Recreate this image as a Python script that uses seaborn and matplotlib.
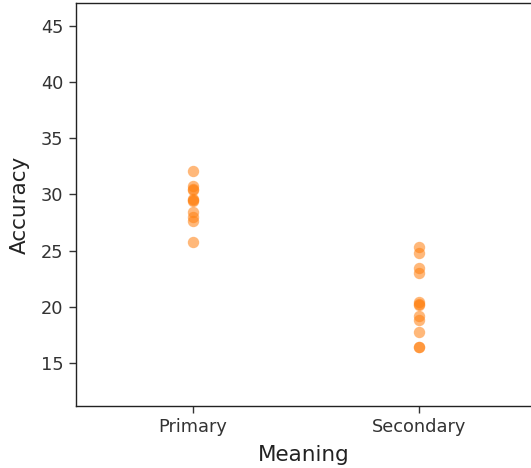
import matplotlib
matplotlib.use("Agg")
import matplotlib.pyplot as plt
import seaborn as sns
import pandas as pd

# Accuracy scores per meaning type
primary_acc = [32.1, 30.7, 30.5, 30.4, 29.6, 29.4, 29.5, 28.4, 28.0, 27.6, 25.8]
secondary_acc = [25.3, 24.8, 23.5, 23.0, 20.4, 20.3, 20.2, 19.2, 18.8, 17.8, 16.4, 16.4]
categories = ["Primary", "Secondary"]

df = pd.DataFrame({
    "Meaning": [categories[0]] * len(primary_acc) + [categories[1]] * len(secondary_acc),
    "Accuracy": primary_acc + secondary_acc,
})

sns.set_style("white")
plt.rcParams["font.family"] = ["DejaVu Sans"]

W, H = 531, 468
fig = plt.figure(figsize=(W / 100, H / 100), dpi=100)
ax = fig.add_axes([76 / W, 1 - 406 / H, (532 - 76) / W, (406 - 3) / H])

sns.stripplot(data=df, x="Meaning", y="Accuracy", jitter=False,
              color="#ff7f0e", alpha=0.55, size=8.2, linewidth=0, ax=ax)

ax.set_xlim(-0.518, 1.5)
ax.set_ylim(11.2, 47.0)
ax.set_yticks([15, 20, 25, 30, 35, 40, 45])
for sp in ax.spines.values():
    sp.set_color("#222222")
    sp.set_linewidth(1.0)
ax.tick_params(axis="both", which="both", length=5, width=1, color="#333333",
               labelsize=12.8, labelcolor="#333333", left=True, bottom=True, pad=4)
ax.set_xlabel("Meaning", fontsize=15.5, color="#222222", labelpad=6)
ax.set_ylabel("Accuracy", fontsize=15.5, color="#222222", labelpad=8)

fig.savefig("out.png", dpi=100)
